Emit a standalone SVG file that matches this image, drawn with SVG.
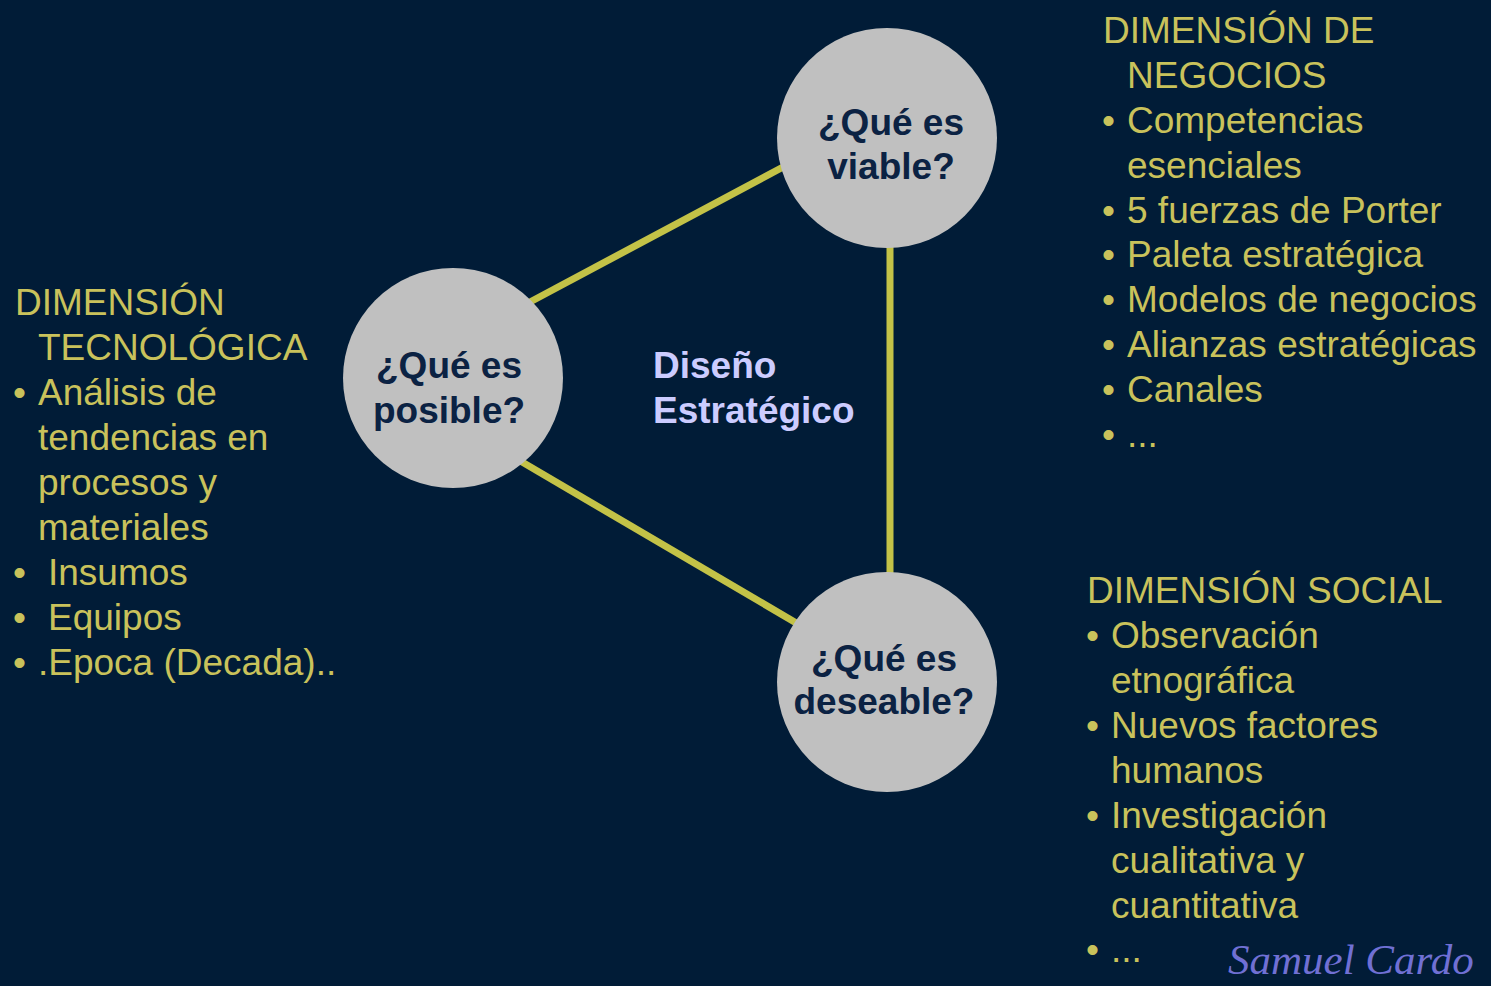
<svg xmlns="http://www.w3.org/2000/svg" width="1491" height="986" viewBox="0 0 1491 986">
<style>
.bg{fill:#011c37}
.t{font-family:"Liberation Sans",Arial,sans-serif;font-size:37px;fill:#c9c25b}
.c{fill:#c0c0c0}
.q{font-family:"Liberation Sans",Arial,sans-serif;font-size:37px;font-weight:bold;fill:#0b2243;text-anchor:middle}
.d{font-family:"Liberation Sans",Arial,sans-serif;font-size:37px;font-weight:bold;fill:#ccccff}
.ln{stroke:#c3c247;stroke-width:7;fill:none}
.sig{font-family:"Liberation Serif","Times New Roman",serif;font-style:italic;font-size:43px;fill:#7070d4}
</style>
<rect class="bg" x="0" y="0" width="1491" height="986"/>
<g id="connectors">
<line class="ln" x1="515" y1="310" x2="800" y2="158"/>
<line class="ln" x1="505" y1="452" x2="815" y2="634"/>
<line class="ln" x1="890" y1="230" x2="890" y2="590"/>
</g>
<g id="node-viable">
<circle class="c" cx="887" cy="138" r="110"/>
<text class="q" x="891" y="135">¿Qué es</text>
<text class="q" x="891" y="179">viable?</text>
</g>
<g id="node-posible">
<circle class="c" cx="453" cy="378" r="110"/>
<text class="q" x="449" y="378">¿Qué es</text>
<text class="q" x="449" y="423">posible?</text>
</g>
<g id="node-deseable">
<circle class="c" cx="887" cy="682" r="110"/>
<text class="q" x="884" y="671">¿Qué es</text>
<text class="q" x="884" y="714">deseable?</text>
</g>
<g id="center-label">
<text class="d" x="653" y="378">Diseño</text>
<text class="d" x="653" y="423">Estratégico</text>
</g>
<g id="dim-tecnologica">
<text class="t" x="15" y="315">DIMENSIÓN</text>
<text class="t" x="38" y="360">TECNOLÓGICA</text>
<text class="t" x="13" y="405">•</text><text class="t" x="38" y="405">Análisis de</text>
<text class="t" x="38" y="450">tendencias en</text>
<text class="t" x="38" y="495">procesos y</text>
<text class="t" x="38" y="540">materiales</text>
<text class="t" x="13" y="585">•</text><text class="t" x="48" y="585">Insumos</text>
<text class="t" x="13" y="630">•</text><text class="t" x="48" y="630">Equipos</text>
<text class="t" x="13" y="675">•</text><text class="t" x="38" y="675">.Epoca (Decada)..</text>
</g>
<g id="dim-negocios">
<text class="t" x="1103" y="43">DIMENSIÓN DE</text>
<text class="t" x="1127" y="88">NEGOCIOS</text>
<text class="t" x="1102" y="133">•</text><text class="t" x="1127" y="133">Competencias</text>
<text class="t" x="1127" y="178">esenciales</text>
<text class="t" x="1102" y="223">•</text><text class="t" x="1127" y="223">5 fuerzas de Porter</text>
<text class="t" x="1102" y="267">•</text><text class="t" x="1127" y="267">Paleta estratégica</text>
<text class="t" x="1102" y="312">•</text><text class="t" x="1127" y="312">Modelos de negocios</text>
<text class="t" x="1102" y="357">•</text><text class="t" x="1127" y="357">Alianzas estratégicas</text>
<text class="t" x="1102" y="402">•</text><text class="t" x="1127" y="402">Canales</text>
<text class="t" x="1102" y="447">•</text><text class="t" x="1127" y="447">...</text>
</g>
<g id="dim-social">
<text class="t" x="1087" y="603">DIMENSIÓN SOCIAL</text>
<text class="t" x="1086" y="648">•</text><text class="t" x="1111" y="648">Observación</text>
<text class="t" x="1111" y="693">etnográfica</text>
<text class="t" x="1086" y="738">•</text><text class="t" x="1111" y="738">Nuevos factores</text>
<text class="t" x="1111" y="783">humanos</text>
<text class="t" x="1086" y="828">•</text><text class="t" x="1111" y="828">Investigación</text>
<text class="t" x="1111" y="873">cualitativa y</text>
<text class="t" x="1111" y="918">cuantitativa</text>
<text class="t" x="1086" y="962">•</text><text class="t" x="1111" y="962">...</text>
</g>
<g id="signature">
<text class="sig" x="1228" y="974">Samuel Cardo</text>
</g>
</svg>
